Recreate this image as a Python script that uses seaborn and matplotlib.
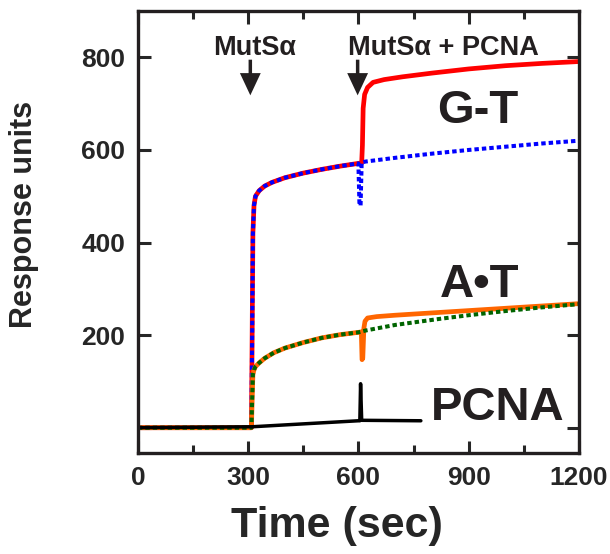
import numpy as np
import pandas as pd
import matplotlib
matplotlib.use('Agg')
import matplotlib.pyplot as plt
import seaborn as sns

# G-T (red = MutSa then MutSa+PCNA, blue dotted = MutSa only)
t_gt_red = [0, 309, 311, 313, 316, 320, 330, 345, 365, 400, 450, 500, 550, 600,
            609, 611, 613, 617, 625, 640, 670, 720, 800, 900, 1000, 1100, 1200]
gt_red = [0, 0, 200, 420, 480, 500, 512, 522, 530, 540, 550, 558, 565, 571,
          572, 610, 690, 720, 735, 746, 752, 758, 766, 775, 782, 787, 791]
t_gt_blue = [0, 309, 311, 313, 316, 320, 330, 345, 365, 400, 450, 500, 550, 600,
             603, 606, 609, 620, 700, 800, 900, 1000, 1100, 1200]
gt_blue = [0, 0, 200, 420, 480, 500, 512, 522, 530, 540, 550, 558, 565, 571,
           480, 480, 573, 575, 583, 592, 600, 607, 614, 620]

# A•T (orange solid, green dotted)
t_at_orange = [0, 309, 311, 313, 316, 320, 330, 345, 370, 400, 450, 500, 550, 600,
               608, 610, 612, 615, 618, 625, 650, 700, 800, 900, 1000, 1100, 1200]
at_orange = [0, 0, 60, 115, 125, 132, 140, 150, 162, 172, 184, 194, 201, 206,
             207, 147, 150, 215, 230, 237, 240, 243, 248, 253, 258, 263, 268]
t_at_green = [0, 309, 311, 313, 316, 320, 330, 345, 370, 400, 450, 500, 550, 600,
              620, 700, 820, 900, 1000, 1100, 1200]
at_green = [0, 0, 60, 115, 125, 132, 140, 150, 162, 172, 184, 194, 201, 206,
            210, 222, 235, 243, 252, 260, 267]

# PCNA alone
t_pcna = [0, 310, 600, 604, 606, 609, 770]
pcna = [0, 2, 15, 15, 95, 16, 15]

xticks = [0, 300, 600, 900, 1200]
yticks = [0, 200, 400, 600, 800]
ytick_labels = ['', '200', '400', '600', '800']

sns.set_theme(style='ticks')
plt.rcParams['font.family'] = ['Liberation Sans', 'DejaVu Sans']
plt.rcParams['font.weight'] = 'bold'

fig = plt.figure(figsize=(6.1, 5.54), dpi=100)
ax = fig.add_axes([0.226, 0.182, 0.723, 0.798])

dot = (0, (1.1, 0.75))
sns.lineplot(x=t_gt_red, y=gt_red, color='#ff0000', lw=3.4, estimator=None, sort=False, ax=ax)
sns.lineplot(x=t_gt_blue, y=gt_blue, color='#0000ff', lw=2.9, linestyle=dot,
             estimator=None, sort=False, ax=ax)
sns.lineplot(x=t_at_orange, y=at_orange, color='#ff6600', lw=3.4, estimator=None, sort=False, ax=ax)
sns.lineplot(x=t_at_green, y=at_green, color='#006400', lw=2.9, linestyle=dot,
             estimator=None, sort=False, ax=ax)
sns.lineplot(x=t_pcna, y=pcna, color='black', lw=2.5, estimator=None, sort=False, ax=ax)

ax.set_xlim(0, 1200)
ax.set_ylim(-55, 900)
ax.set_xticks(xticks)
ax.set_xticks([150, 450, 750, 1050], minor=True)
ax.set_yticks(yticks)
ax.set_yticklabels(ytick_labels)
ax.tick_params(axis='both', which='major', direction='in', length=9, width=2.2,
               top=True, right=True, labelsize=19, pad=9)
ax.tick_params(axis='x', which='minor', direction='in', length=6, width=2.2,
               top=True, bottom=True)
for lab in ax.get_xticklabels() + ax.get_yticklabels():
    lab.set_fontweight('bold')
for s in ax.spines.values():
    s.set_linewidth(2.4)
    s.set_color('#231f20')

ax.set_xlabel('Time (sec)', fontsize=31, fontweight='bold')
ax.set_ylabel('Response units', fontsize=22, fontweight='bold')
ax.xaxis.set_label_coords(0.451, -0.12)
ax.yaxis.set_label_coords(-0.225, 0.54)

# injection arrows
arrow = dict(facecolor='#231f20', edgecolor='none', width=2.5, headwidth=15, headlength=16)
ax.annotate('', xy=(306, 718), xytext=(306, 795), arrowprops=arrow)
ax.annotate('', xy=(598, 718), xytext=(598, 795), arrowprops=arrow)
ax.text(206, 821, 'MutSα', fontsize=19.5, fontweight='bold', va='center', ha='left', color='#231f20')
ax.text(572, 821, 'MutSα + PCNA', fontsize=19.5, fontweight='bold', va='center', ha='left', color='#231f20')

ax.text(924, 685, 'G-T', fontsize=34, fontweight='bold', ha='center', va='center', color='#231f20')
ax.text(929, 308, 'A•T', fontsize=34, fontweight='bold', ha='center', va='center', color='#231f20')
ax.text(978, 43, 'PCNA', fontsize=34, fontweight='bold', ha='center', va='center', color='#231f20')

plt.savefig('out.png', dpi=100)
